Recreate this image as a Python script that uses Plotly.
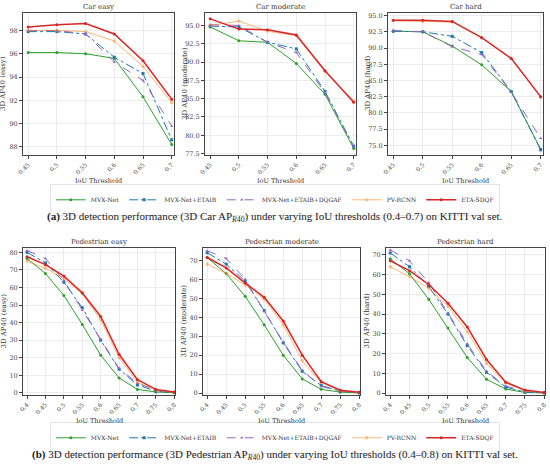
import plotly.graph_objects as go

# x values (IoU thresholds)
car_iou = [0.45, 0.5, 0.55, 0.6, 0.65, 0.7]
car_iou_text = ['0.45', '0.5', '0.55', '0.6', '0.65', '0.7']
ped_iou = [0.4, 0.45, 0.5, 0.55, 0.6, 0.65, 0.7, 0.75, 0.8]
ped_iou_text = ['0.4', '0.45', '0.5', '0.55', '0.6', '0.65', '0.7', '0.75', '0.8']

methods = ['MVX-Net', 'MVX-Net+ETAIB', 'MVX-Net+ETAIB+DQGAF', 'PV-RCNN', 'ETA-SDQF']

# Car AP40 values, one list per method
car_easy_mvx = [96.1, 96.1, 96.0, 95.6, 92.3, 88.2]
car_easy_etaib = [97.9, 97.9, 97.7, 95.7, 94.3, 88.6]
car_easy_dqgaf = [98.0, 98.0, 97.7, 95.3, 93.7, 89.8]
car_easy_pvrcnn = [98.0, 98.0, 97.9, 97.1, 94.9, 91.8]
car_easy_sdqf = [98.3, 98.5, 98.6, 97.7, 95.4, 92.1]

car_mod_mvx = [94.8, 92.9, 92.7, 89.8, 85.6, 78.2]
car_mod_etaib = [94.9, 94.8, 92.7, 91.8, 86.0, 78.5]
car_mod_dqgaf = [95.1, 95.0, 92.7, 91.3, 85.8, 78.4]
car_mod_pvrcnn = [95.0, 95.6, 94.2, 93.6, 88.7, 84.7]
car_mod_sdqf = [95.9, 94.5, 94.4, 93.7, 88.8, 84.5]

car_hard_mvx = [92.6, 92.5, 90.3, 87.4, 83.3, 74.4]
car_hard_etaib = [92.6, 92.5, 91.8, 89.3, 83.3, 74.3]
car_hard_dqgaf = [92.7, 92.5, 90.2, 89.0, 83.2, 76.1]
car_hard_pvrcnn = [94.2, 94.1, 94.0, 91.6, 88.4, 82.4]
car_hard_sdqf = [94.3, 94.3, 94.1, 91.6, 88.4, 82.5]

# Pedestrian AP40 values
ped_easy_mvx = [76.5, 68, 55.5, 39, 21.5, 8.5, 2, 0.5, 0.1]
ped_easy_etaib = [80, 74, 63, 48.5, 30, 13.5, 4.5, 1, 0.2]
ped_easy_dqgaf = [81, 76.5, 64, 47, 30.5, 14, 5.5, 1.5, 0.3]
ped_easy_pvrcnn = [75, 71, 65, 56.5, 41.5, 20, 6, 1.5, 0.3]
ped_easy_sdqf = [77.5, 73, 66.5, 57, 43.5, 22, 7.5, 2, 0.5]

ped_mod_mvx = [71.5, 63, 51, 36, 20, 7.5, 2, 0.5, 0.1]
ped_mod_etaib = [74, 68, 59, 43.5, 26.5, 11.5, 4, 1, 0.2]
ped_mod_dqgaf = [75, 71, 60, 43, 27, 12, 3.5, 1, 0.2]
ped_mod_pvrcnn = [68, 63, 57, 49.5, 36, 17, 5.5, 1.2, 0.3]
ped_mod_sdqf = [71.5, 66, 58, 50.5, 38, 20, 6, 1.5, 0.5]

ped_hard_mvx = [68, 60.5, 47.5, 33, 18, 7, 2, 0.3, 0.1]
ped_hard_etaib = [71, 64, 54, 40, 24, 10.5, 3, 0.5, 0.1]
ped_hard_dqgaf = [72.5, 67, 56, 40.5, 25, 11, 3.5, 0.8, 0.2]
ped_hard_pvrcnn = [64, 59, 53, 44, 31, 15, 5, 1, 0.2]
ped_hard_sdqf = [67, 62, 55, 45.5, 33.5, 17, 5.5, 1.5, 0.3]

W, H = 550, 467
SERIF = 'DejaVu Serif'

# style per method: colour, dash, marker symbol, line width, opacity
styles = [
    ('#2ca02c', 'solid', 'circle', 1.0, 1.0),
    ('#1f77b4', 'dashdot', 'square', 1.0, 1.0),
    ('#9467bd', 'dash', 'triangle-up', 1.0, 1.0),
    ('#ff7f0e', 'solid', 'diamond', 1.0, 0.55),
    ('#d62728', 'solid', 'circle', 1.5, 1.0),
]

# panels: title, y title, x, x text, series, y range, dtick, tickformat, pixel box (left, right, top, bottom), x range, legend
panels = [
    ('Car easy', '3D AP40 (easy)', car_iou, car_iou_text,
     [car_easy_mvx, car_easy_etaib, car_easy_dqgaf, car_easy_pvrcnn, car_easy_sdqf],
     [87.3, 99.5], 2, 'd', (23, 174, 13, 155), [0.441, 0.704], 'legend'),
    ('Car moderate', '3D AP40 (moderate)', car_iou, car_iou_text,
     [car_mod_mvx, car_mod_etaib, car_mod_dqgaf, car_mod_pvrcnn, car_mod_sdqf],
     [77.3, 96.7], 2.5, '.1f', (205, 356, 13, 155), [0.441, 0.704], 'legend'),
    ('Car hard', '3D AP40 (hard)', car_iou, car_iou_text,
     [car_hard_mvx, car_hard_etaib, car_hard_dqgaf, car_hard_pvrcnn, car_hard_sdqf],
     [73.5, 95.4], 2.5, '.1f', (388, 543, 13, 155), [0.441, 0.704], 'legend'),
    ('Pedestrian easy', '3D AP40 (easy)', ped_iou, ped_iou_text,
     [ped_easy_mvx, ped_easy_etaib, ped_easy_dqgaf, ped_easy_pvrcnn, ped_easy_sdqf],
     [-1.2, 82.5], 10, 'd', (23, 175, 248, 395), [0.389, 0.802], 'legend2'),
    ('Pedestrian moderate', '3D AP40 (moderate)', ped_iou, ped_iou_text,
     [ped_mod_mvx, ped_mod_etaib, ped_mod_dqgaf, ped_mod_pvrcnn, ped_mod_sdqf],
     [-1.0, 76.5], 10, 'd', (203, 360, 248, 395), [0.389, 0.802], 'legend2'),
    ('Pedestrian hard', '3D AP40 (hard)', ped_iou, ped_iou_text,
     [ped_hard_mvx, ped_hard_etaib, ped_hard_dqgaf, ped_hard_pvrcnn, ped_hard_sdqf],
     [-1.0, 73.5], 10, 'd', (386, 545, 248, 395), [0.389, 0.802], 'legend2'),
]

fig = go.Figure()
layout = {}
annotations = []


# helper: centred text annotation at pixel position (px, py) measured from top-left
def add_text(text, px, py, size, family=SERIF, angle=0, color='#333'):
    annotations.append(dict(text=text, x=px / W, y=1 - py / H, xref='paper', yref='paper',
                            xanchor='center', yanchor='middle', showarrow=False,
                            textangle=angle, font=dict(family=family, size=size, color=color)))


for i, (title, ytitle, xs, xtext, series, yrange, dtick, yfmt, box, xrange_, leg) in enumerate(panels):
    n = i + 1
    xa = 'x' if n == 1 else 'x%d' % n
    ya = 'y' if n == 1 else 'y%d' % n
    left, right, top, bottom = box
    first_of_row = (i % 3 == 0)
    for j, ys in enumerate(series):
        color, dash, symbol, width, opac = styles[j]
        fig.add_trace(go.Scatter(x=xs, y=ys, name=methods[j], mode='lines+markers',
                                 line=dict(color=color, dash=dash, width=width),
                                 marker=dict(color=color, symbol=symbol, size=3),
                                 opacity=opac, xaxis=xa, yaxis=ya,
                                 legend=leg, showlegend=first_of_row))
    axis_common = dict(showline=True, mirror=True, linecolor='#444', linewidth=1,
                       showgrid=True, gridcolor='#ececec', gridwidth=0.6, automargin=False,
                       ticks='outside', ticklen=3, tickcolor='#444', zeroline=False,
                       tickfont=dict(family=SERIF, size=6.5, color='#444'))
    layout['xaxis' if n == 1 else 'xaxis%d' % n] = dict(
        axis_common, domain=[left / W, right / W], anchor=ya, range=xrange_,
        tickvals=xs, ticktext=xtext, tickangle=-45,
        tickfont=dict(family=SERIF, size=6, color='#444'))
    layout['yaxis' if n == 1 else 'yaxis%d' % n] = dict(
        axis_common, domain=[1 - bottom / H, 1 - top / H], anchor=xa, range=yrange,
        dtick=dtick, tickformat=yfmt)
    mid_x = (left + right) / 2
    add_text(title, mid_x, top - 6, 7)                       # subplot title
    add_text('IoU Threshold', mid_x, bottom + 26, 6.5)       # x title
    add_text(ytitle, left - 20, (top + bottom) / 2, 7, angle=-90)  # y title

# captions
add_text('<b>(a)</b> 3D detection performance (3D Car AP<sub><i>R</i>40</sub>) under varying IoU thresholds (0.4–0.7) on KITTI val set.',
         W / 2, 217, 11, family='Liberation Serif', color='#222')
add_text('<b>(b)</b> 3D detection performance (3D Pedestrian AP<sub><i>R</i>40</sub>) under varying IoU thresholds (0.4–0.8) on KITTI val set.',
         W / 2, 455, 11, family='Liberation Serif', color='#222')

legend_common = dict(orientation='h', xanchor='center', x=0.5, yanchor='middle',
                     bordercolor='#ddd', borderwidth=0.8, bgcolor='white',
                     font=dict(family=SERIF, size=6, color='#333'), itemwidth=30)

fig.update_layout(width=W, height=H, margin=dict(l=0, r=0, t=0, b=0),
                  plot_bgcolor='white', paper_bgcolor='white',
                  annotations=annotations,
                  legend=dict(legend_common, y=1 - 200 / H),
                  legend2=dict(legend_common, y=1 - 438 / H),
                  **layout)

# page body has a default margin; drop it so the figure fills the window
fig.write_html("out.html", config={'displayModeBar': False},
               post_script="document.body.style.margin='0';")
